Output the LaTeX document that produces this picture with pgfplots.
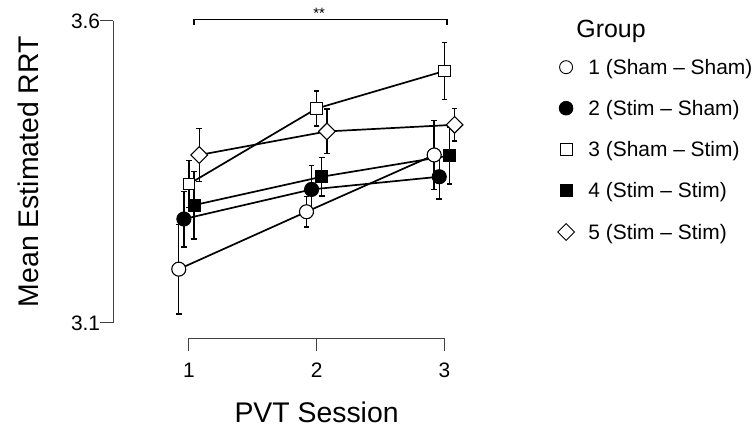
\documentclass[border=0pt]{standalone}
\usepackage{fontspec}
\setmainfont{Liberation Sans}
\usepackage{pgfplots}
\pgfplotsset{compat=1.18}
\begin{document}
\begin{tikzpicture}[x=1bp,y=1bp]
\path[use as bounding box] (0,0) rectangle (755,-428);
\begin{axis}[
  at={(113bp,-338bp)}, anchor=south west,
  scale only axis, width=408bp, height=329.2bp,
  xmin=0.405, xmax=3.6, ymin=3.075, ymax=3.62,
  clip=false,
  axis line style={draw=none},
  xtick={1,2,3}, ytick={3.1,3.6},
  yticklabels={3.1,3.6},
  xtick pos=bottom, ytick pos=left,
  tick align=outside, major tick length=12.7bp,
  tick style={black!75, line width=1bp},
  /pgf/number format/assume math mode=true,
  ticklabel style={font=\fontsize{21}{25}\selectfont, inner sep=0pt},
  xticklabel style={yshift=-12bp},
  xlabel={PVT Session}, ylabel={Mean Estimated RRT},
  label style={font=\fontsize{28.5}{34}\selectfont, inner sep=0pt},
  xlabel style={at={(axis description cs:0.499,-0.226)}, anchor=center},
  ylabel style={at={(axis description cs:-0.2083,0.505)}, anchor=center},
  legend image code/.code={\path[draw=none, fill=none] (0bp,-5bp) rectangle (16bp,5bp); \draw[#1] plot coordinates {(8bp,0bp)};},
  legend style={at={(axis description cs:1.09,0.97)}, anchor=north west, draw=none, fill=none,
    inner sep=0pt, outer sep=0pt, row sep=26bp, column sep=14bp,
    font=\fontsize{21}{25}\selectfont,
    nodes={inner sep=0pt, text height=15bp, text depth=0pt}},
  legend cell align=left,
]
\addlegendimage{empty legend}
\addlegendentry{\hspace{-12bp}\raisebox{-4bp}{\fontsize{25}{30}\selectfont Group}}
\addlegendimage{black, mark=*, mark size=6.5bp, mark options={fill=white, line width=0.9bp}}
\addlegendentry{1 (Sham – Sham)}
\addlegendimage{black, mark=*, mark size=6.8bp, mark options={fill=black, line width=0.9bp}}
\addlegendentry{2 (Stim – Sham)}
\addlegendimage{black, mark=square*, mark size=5.9bp, mark options={fill=white, line width=0.9bp}}
\addlegendentry{3 (Sham – Stim)}
\addlegendimage{black, mark=square*, mark size=5.9bp, mark options={fill=black, line width=0.9bp}}
\addlegendentry{4 (Stim – Stim)}
\addlegendimage{black, mark=square*, mark size=5.9bp, mark options={fill=white, line width=0.9bp, rotate=45}}
\addlegendentry{5 (Stim – Stim)}

% range frame
\draw[black!75, line width=1bp] (axis cs:0.405,3.1) -- (axis cs:0.405,3.6);
\draw[black!75, line width=1bp] (axis cs:1,3.075) -- (axis cs:3,3.075);

\pgfplotsset{every axis plot/.append style={black, line width=1.7bp,
  error bars/y dir=both, error bars/y explicit,
  error bars/error mark=-,
  error bars/error mark options={rotate=90, mark size=2.8bp, line width=1.4bp, black},
  error bars/error bar style={line width=1.4bp, black}}}
% Group 1
\addplot[forget plot, mark=*, mark size=7bp, mark options={fill=white, line width=1.1bp}]
  table[x=x, y=y, y error=e] {
x y e
0.92 3.189 0.074
1.92 3.284 0.025
2.92 3.378 0.057
};
% Group 2
\addplot[forget plot, mark=*, mark size=7bp, mark options={fill=black, line width=1.1bp}]
  table[x=x, y=y, y error=e] {
x y e
0.96 3.272 0.046
1.96 3.321 0.040
2.96 3.342 0.037
};
% Group 3
\addplot[forget plot, mark=square*, mark size=5.9bp, mark options={fill=white, line width=1.1bp}]
  table[x=x, y=y, y error=e] {
x y e
1.00 3.330 0.039
2.00 3.455 0.029
3.00 3.517 0.047
};
% Group 4
\addplot[forget plot, mark=square*, mark size=5.9bp, mark options={fill=black, line width=1.1bp}]
  table[x=x, y=y, y error=e] {
x y e
1.04 3.295 0.056
2.04 3.342 0.032
3.04 3.377 0.047
};
% Group 5
\addplot[forget plot, mark=square*, mark size=5.9bp, mark options={fill=white, line width=1.1bp, rotate=45}]
  table[x=x, y=y, y error=e] {
x y e
1.08 3.378 0.044
2.08 3.417 0.037
3.08 3.428 0.027
};

% significance bracket
\draw[black, line width=1.3bp] (axis cs:1.04,3.593) -- (axis cs:1.04,3.602) -- (axis cs:3.02,3.602) -- (axis cs:3.02,3.593);
\node[font=\fontsize{15}{17}\selectfont, inner sep=0pt] at (axis cs:2.02,3.613) {**};
\end{axis}
\end{tikzpicture}
\end{document}
